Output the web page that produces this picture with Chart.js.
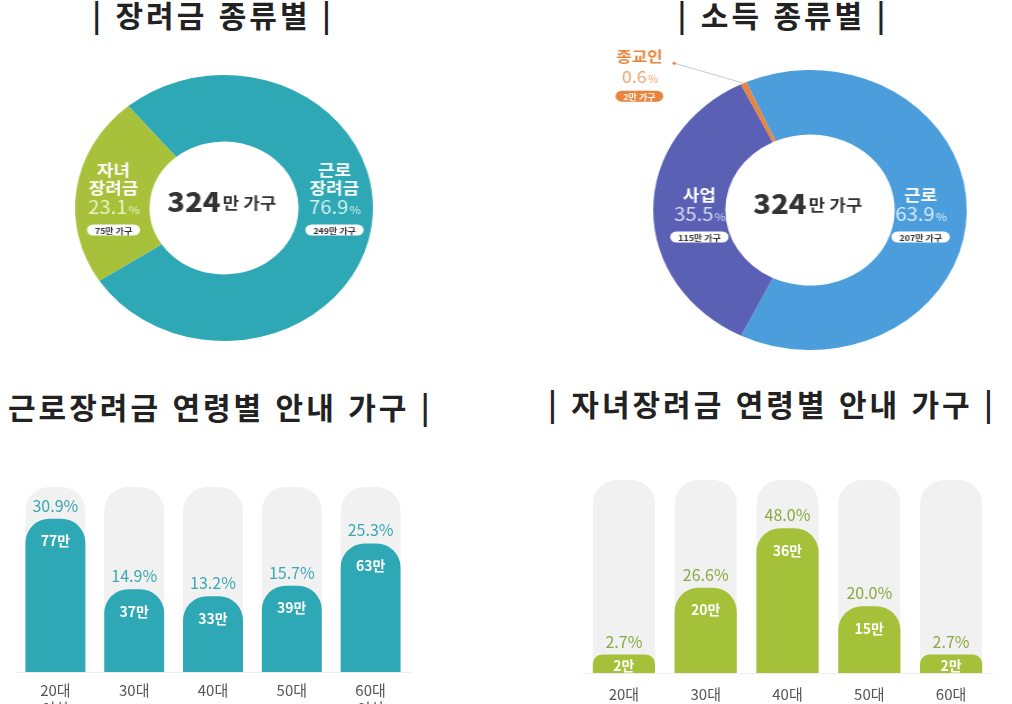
<!DOCTYPE html>
<html lang="ko">
<head>
<meta charset="utf-8">
<script src="https://cdn.jsdelivr.net/npm/chart.js@4.4.1/dist/chart.umd.min.js"></script>
<style>
  html, body { margin: 0; padding: 0; background: #fff; width: 1012px; height: 704px; overflow: hidden; }
  .title { position: absolute; font-family: "Noto Sans CJK KR", sans-serif; font-weight: 700; font-size: 30px;
           line-height: 40px; color: #222; white-space: nowrap; letter-spacing: 3px; }
  canvas { position: absolute; }
  #rewardChart { left: 64px; top: 48px; transform: scaleX(1.12); }
  #incomeChart { left: 610px; top: 10px; transform: scaleX(1.12); }
  #workChart { left: 0; top: 440px; }
  #childChart { left: 560px; top: 440px; }
</style>
</head>
<body>
<div class="title" style="left:63px; width:300px; text-align:center; top:-6px;">| 장려금 종류별 |</div>
<div class="title" style="left:633px; width:300px; text-align:center; top:-6px;">| 소득 종류별 |</div>
<div class="title" style="left:8px; top:386px;">근로장려금 연령별 안내 가구 |</div>
<div class="title" style="left:548px; top:383px;">| 자녀장려금 연령별 안내 가구 |</div>

<canvas id="rewardChart" width="320" height="320"></canvas>
<canvas id="incomeChart" width="400" height="400"></canvas>
<canvas id="workChart" width="430" height="264"></canvas>
<canvas id="childChart" width="452" height="265"></canvas>

<script>
// 장려금 종류별 (단위: %, 만 가구)
const rewardNames = [['근로', '장려금'], ['자녀', '장려금']];
const rewardShare = [76.9, 23.1];
const rewardHouseholds = [249, 75];

// 소득 종류별
const incomeNames = [['근로'], ['사업'], ['종교인']];
const incomeShare = [63.9, 35.5, 0.6];
const incomeHouseholds = [207, 115, 2];

const totalHouseholds = 324;

// 근로장려금 연령별
const workAges = [['20대', '이하'], '30대', '40대', '50대', ['60대', '이상']];
const workHouseholds = [77, 37, 33, 39, 63];
const workShare = [30.9, 14.9, 13.2, 15.7, 25.3];
const workTrack = [95, 95, 95, 95, 95];

// 자녀장려금 연령별
const childAges = ['20대', '30대', '40대', '50대', '60대'];
const childHouseholds = [2, 20, 36, 15, 2];
const childShare = [2.7, 26.6, 48.0, 20.0, 2.7];
const childTrack = [49, 49, 49, 49, 49];

const FONT = '"Noto Sans CJK KR", sans-serif';

// 둥근 사각형 라벨 박스
function pill(ctx, x, y, text, bg, fg) {
    ctx.font = 'bold 8px ' + FONT;
    const w = ctx.measureText(text).width + 14;
    const h = 11;
    ctx.fillStyle = bg;
    ctx.beginPath();
    ctx.roundRect(x - w / 2, y - h / 2, w, h, h / 2);
    ctx.fill();
    ctx.fillStyle = fg;
    ctx.textAlign = 'center';
    ctx.textBaseline = 'middle';
    ctx.fillText(text, x, y + 0.5);
}

// 숫자 + 작은 %
function percentText(ctx, x, y, value, color, size) {
    const num = value.toFixed(1);
    ctx.font = size + 'px ' + FONT;
    const w1 = ctx.measureText(num).width;
    ctx.font = Math.round(size * 0.6) + 'px ' + FONT;
    const w2 = ctx.measureText('%').width;
    const left = x - (w1 + w2) / 2;
    ctx.fillStyle = color;
    ctx.textAlign = 'left';
    ctx.textBaseline = 'alphabetic';
    ctx.font = size + 'px ' + FONT;
    ctx.fillText(num, left, y + size * 0.35);
    ctx.font = Math.round(size * 0.6) + 'px ' + FONT;
    ctx.fillText('%', left + w1 + 1, y + size * 0.35);
}

// 도넛 라벨 플러그인
const donutLabels = {
    id: 'donutLabels',
    afterDatasetsDraw(chart, args, o) {
        const ctx = chart.ctx;
        const arcs = chart.getDatasetMeta(0).data;
        const cx = arcs[0].x, cy = arcs[0].y;
        ctx.save();

        // 가운데 합계
        ctx.textBaseline = 'middle';
        ctx.font = '900 26px ' + FONT;
        const big = String(totalHouseholds);
        const wBig = ctx.measureText(big).width;
        ctx.font = 'bold 16px ' + FONT;
        const small = '만 가구';
        const wSmall = ctx.measureText(small).width;
        const left = cx - (wBig + wSmall + 2) / 2 - 2;
        ctx.fillStyle = '#333';
        ctx.textAlign = 'left';
        ctx.font = '900 26px ' + FONT;
        ctx.fillText(big, left, cy - 6);
        ctx.font = 'bold 16px ' + FONT;
        ctx.fillText(small, left + wBig + 2, cy - 5);

        arcs.forEach((arc, i) => {
            const p = arc.getProps(['startAngle', 'endAngle', 'innerRadius', 'outerRadius'], true);
            const mid = (p.startAngle + p.endAngle) / 2;
            if (o.shares[i] < 5) {
                // 바깥 라벨 + 지시선
                const ax = cx + p.outerRadius * Math.cos(mid);
                const ay = cy + p.outerRadius * Math.sin(mid);
                const dx = ax - 62, dy = ay - 20;
                ctx.strokeStyle = '#c9c9c9';
                ctx.lineWidth = 1;
                ctx.beginPath();
                ctx.moveTo(ax, ay);
                ctx.lineTo(dx, dy);
                ctx.stroke();
                ctx.fillStyle = o.colors[i];
                ctx.beginPath();
                ctx.arc(dx, dy, 1.5, 0, Math.PI * 2);
                ctx.fill();
                const tx = dx - 31;
                ctx.font = 'bold 15px ' + FONT;
                ctx.textAlign = 'center';
                ctx.textBaseline = 'middle';
                ctx.fillText(o.names[i][0], tx, dy - 7);
                percentText(ctx, tx, dy + 14, o.shares[i], '#f0a064', 16);
                pill(ctx, tx, dy + 33, o.households[i] + '만 가구', o.colors[i], '#fff');
                return;
            }
            const r = p.innerRadius + o.radial * (p.outerRadius - p.innerRadius);
            const x = cx + r * Math.cos(mid);
            const py = cy + o.shiftY;
            const names = o.names[i];
            ctx.fillStyle = '#fff';
            ctx.font = 'bold 16px ' + FONT;
            ctx.textAlign = 'center';
            ctx.textBaseline = 'middle';
            names.forEach((n, k) => {
                ctx.fillText(n, x, py - 20 - 18 * (names.length - 1 - k));
            });
            percentText(ctx, x, py, o.shares[i], o.pctColors[i], 18);
            pill(ctx, x, py + 22, o.households[i] + '만 가구', '#fff', '#333');
        });
        ctx.restore();
    }
};

// 막대 라벨 플러그인
const barLabels = {
    id: 'barLabels',
    afterDatasetsDraw(chart, args, o) {
        const ctx = chart.ctx;
        const meta = chart.getDatasetMeta(1);
        const values = chart.data.datasets[1].data;
        ctx.save();
        ctx.textAlign = 'center';
        ctx.textBaseline = 'middle';
        meta.data.forEach((bar, i) => {
            const {x, y, base} = bar.getProps(['x', 'y', 'base'], true);
            ctx.font = '16px ' + FONT;
            ctx.fillStyle = o.pctColor;
            ctx.fillText(o.shares[i].toFixed(1) + '%', x, y - 13);
            ctx.font = 'bold 14px ' + FONT;
            ctx.fillStyle = '#fff';
            ctx.fillText(values[i] + '만', x, Math.min(y + 22, (y + base) / 2 + 2));
        });
        ctx.restore();
    }
};

function drawDonut(id, names, shares, households, colors, pctColors, rotation, cutout, pad, radial, shiftY) {
    new Chart(document.getElementById(id), {
        type: 'doughnut',
        data: {
            labels: names.map(n => n.join('')),
            datasets: [{
                data: shares,
                backgroundColor: colors,
                borderWidth: 0
            }]
        },
        options: {
            responsive: false,
            animation: false,
            rotation: rotation,
            cutout: cutout,
            layout: { padding: pad },
            plugins: {
                legend: { display: false },
                tooltip: { enabled: false },
                donutLabels: { names, shares, households, colors, pctColors, radial, shiftY }
            }
        },
        plugins: [donutLabels]
    });
}

function drawBars(id, ages, values, shares, track, color, pctColor, yMin, yMax, pad, tickPad) {
    new Chart(document.getElementById(id), {
        type: 'bar',
        data: {
            labels: ages,
            datasets: [
                { data: track, backgroundColor: '#f1f1f1', order: 2, base: yMin },
                { data: values, backgroundColor: color, order: 1, base: yMin }
            ]
        },
        options: {
            responsive: false,
            animation: false,
            layout: { padding: pad },
            datasets: {
                bar: {
                    grouped: false,
                    barPercentage: 0.76,
                    categoryPercentage: 1,
                    borderRadius: { topLeft: 24, topRight: 24 },
                    borderSkipped: 'start'
                }
            },
            scales: {
                x: {
                    grid: { display: false, drawTicks: false },
                    border: { color: '#eeeeee' },
                    ticks: { padding: tickPad, color: '#555', font: { family: FONT, size: 15 } },
                    afterFit(scale) { scale.height = 32; }
                },
                y: { display: false, min: yMin, max: yMax }
            },
            plugins: {
                legend: { display: false },
                tooltip: { enabled: false },
                barLabels: { shares, pctColor }
            }
        },
        plugins: [barLabels]
    });
}

drawDonut('rewardChart', rewardNames, rewardShare, rewardHouseholds,
    ['#2ea8b4', '#a7c13a'], ['#d4f1f3', '#eef4c6'], 320, '50%', 27, 0.5, 0);

drawDonut('incomeChart', incomeNames, incomeShare, incomeHouseholds,
    ['#4b9edb', '#5a61b5', '#e8843c'], ['#dcecfa', '#d9dcf4', '#f0a064'], 336, '54%', 60, 0.36, 5);

drawBars('workChart', workAges, workHouseholds, workShare, workTrack,
    '#2ea8b4', '#3aa7b2', -10, 95, { top: 47, left: 16, right: 20, bottom: 0 }, 9);

drawBars('childChart', childAges, childHouseholds, childShare, childTrack,
    '#a5c13a', '#8aa843', -3, 49, { top: 40, left: 23, right: 20, bottom: 0 }, 12);
</script>
</body>
</html>
